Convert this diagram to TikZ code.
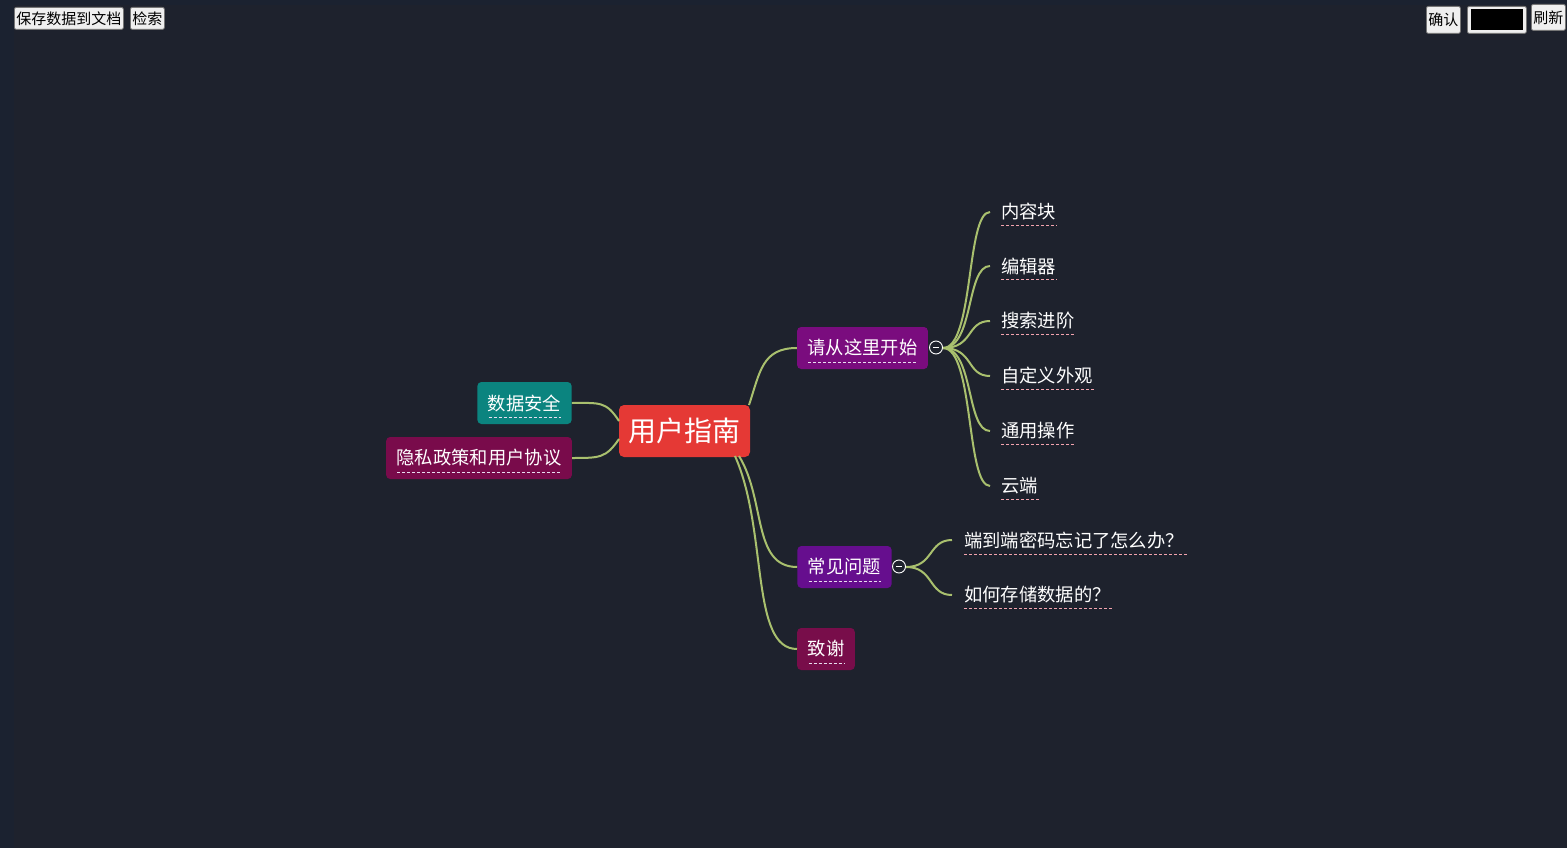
\documentclass[tikz,border=0pt]{standalone}
\usepackage{fontspec}
\setmainfont{Noto Sans CJK SC}
\usetikzlibrary{calc}
\definecolor{bgmain}{HTML}{1E222D}
\definecolor{bgside}{HTML}{1B2230}
\definecolor{rootred}{HTML}{E53935}
\definecolor{tealc}{HTML}{0B847F}
\definecolor{plumc}{HTML}{790B4B}
\definecolor{purpc}{HTML}{7A0C7E}
\definecolor{violc}{HTML}{660E8E}
\definecolor{wine}{HTML}{780D4A}
\definecolor{linkc}{HTML}{A9C06E}
\definecolor{ulpink}{HTML}{F2A3AE}
\definecolor{ullight}{HTML}{E8DDF0}
\definecolor{btnfill}{HTML}{EFEFEF}
\definecolor{btnedge}{HTML}{767676}
\tikzset{
  box/.style={rounded corners=4pt, inner xsep=10.5pt, inner ysep=0pt, minimum height=42pt, text=white, font=\fontsize{18.3}{18.3}\selectfont},
  rootbox/.style={rounded corners=5pt, fill=rootred, inner xsep=9.5pt, inner ysep=0pt, minimum height=52pt, minimum width=131pt, text=white, font=\fontsize{28}{28}\selectfont},
  leaf/.style={anchor=west, inner sep=0pt, text=white, font=\fontsize{18.3}{18.3}\selectfont},
  link/.style={draw=linkc, line width=2pt},
  ulw/.style={draw=ullight, line width=0.9pt, dash pattern=on 3pt off 2pt},
  ulp/.style={draw=ulpink, line width=0.9pt, dash pattern=on 3pt off 2pt},
  btn/.style={draw=btnedge, fill=btnfill, rounded corners=2pt, line width=0.8pt, inner xsep=2pt, inner ysep=0pt, minimum height=22pt, text=black, font=\fontsize{15}{15}\selectfont},
  toggle/.style={circle, draw=white, line width=0.9pt, fill=bgmain, minimum size=13pt, inner sep=0pt}
}
\begin{document}
\begin{tikzpicture}[x=1pt, y=-1pt]
\useasboundingbox (0,0) rectangle (1567,848);
\fill[bgmain] (0,0) rectangle (1567,848);
\fill[bgside] (0,0) rectangle (14,848);
\fill[bgside] (0,0) rectangle (1567,5);

% toolbar
\node[btn, anchor=north west] (save) at (14,7) {保存数据到文档};
\node[btn, anchor=north west] (search) at (130,7) {检索};
\node[btn, anchor=north west, minimum height=27pt] (ok) at (1426,6) {确认};
\node[draw=btnedge, fill=btnfill, rounded corners=2pt, line width=0.8pt, minimum width=59pt, minimum height=27pt, inner sep=0pt, anchor=north west] (inp) at (1467,6) {};
\fill[black] ($(inp.north west)+(3.5,3.5)$) rectangle ($(inp.south east)+(-3.5,-3.5)$);
\node[btn, anchor=north west, minimum height=26pt] (refresh) at (1531,4) {刷新};

% nodes
\node[rootbox] (root) at (684.5,431) {用户指南};
\node[box, fill=tealc] (sec) at (524.5,403) {数据安全};
\node[box, fill=plumc] (priv) at (479,458) {隐私政策和用户协议};
\node[box, fill=purpc] (start) at (862.5,348) {请从这里开始};
\node[box, fill=violc] (faq) at (844.5,567) {常见问题};
\node[box, fill=wine] (thx) at (826,649) {致谢};

% underlines of boxed nodes
\foreach \n in {sec,priv,start,faq,thx}{
  \draw[ulw] ($(\n.south west)+(11.5,-6.5)$) -- ($(\n.south east)+(-11,-6.5)$);
}

% leaves
\node[leaf] (l1) at (1001,212) {内容块};
\node[leaf] (l2) at (1001,266) {编辑器};
\node[leaf] (l3) at (1001,321) {搜索进阶};
\node[leaf] (l4) at (1001,376) {自定义外观};
\node[leaf] (l5) at (1001,431) {通用操作};
\node[leaf] (l6) at (1001,486) {云端};
\node[leaf] (q1) at (964,540) {端到端密码忘记了怎么办？};
\node[leaf] (q2) at (964,595) {如何存储数据的？};

\foreach \n in {l1,l2,l3,l4,l5,l6,q2}{
  \draw[ulp] ($(\n.west)+(0,13.5)$) -- ($(\n.east)+(1,13.5)$);
}
\draw[ulp] ($(q1.west)+(0,14)$) -- ($(q1.east)+(4,14)$);

% anchor coordinates for connectors
\coordinate (rTop) at (749,405);
\coordinate (rB1) at (739,456);
\coordinate (rB2) at (735,456);
\coordinate (rL1) at (619,421);
\coordinate (rL2) at (619,439);
\coordinate (hub1) at (943,348);
\coordinate (hub2) at (906,567);

% connectors from root
\draw[link] (rTop) .. controls (760,372) and (762,348) .. (start.west);
\draw[link] (rB1) .. controls (766,500) and (752,567) .. (faq.west);
\draw[link] (rB2) .. controls (768,530) and (750,649) .. (thx.west);
\draw[link] (rL1) .. controls (606,401) and (600,403) .. (sec.east);
\draw[link] (rL2) .. controls (606,458) and (600,458) .. (priv.east);

% connectors to leaves
\foreach \n in {l1,l2,l3,l4,l5,l6}{
  \draw[link] (hub1) .. controls (974,348) and (966,0|-\n.west) .. ($(\n.west)+(-11,0)$);
}
\foreach \n in {q1,q2}{
  \draw[link] (hub2) .. controls (934,567) and (928,0|-\n.west) .. ($(\n.west)+(-12,0)$);
}

% toggles
\node[toggle] (t1) at (936,347.5) {};
\draw[white, line width=0.9pt] ($(t1.center)+(-3,0)$) -- ($(t1.center)+(3,0)$);
\node[toggle] (t2) at (899,566.5) {};
\draw[white, line width=0.9pt] ($(t2.center)+(-3,0)$) -- ($(t2.center)+(3,0)$);
\end{tikzpicture}
\end{document}
